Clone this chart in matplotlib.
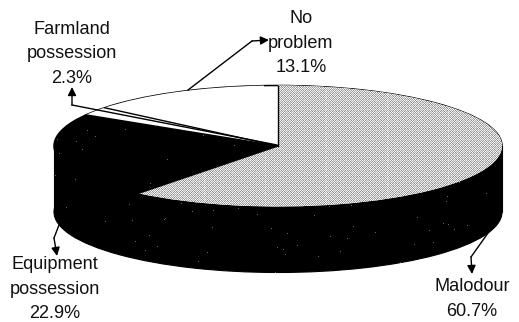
import numpy as np
import matplotlib
matplotlib.use("Agg")
import matplotlib.pyplot as plt
from matplotlib.transforms import Affine2D

categories = ["Malodour", "Equipment\npossession", "Farmland\npossession", "No\nproblem"]
shares = [60.7, 22.9, 2.3, 13.1]

W, H = 519, 322
CX, CY, RX, RY, DEPTH = 278, 146, 224, 60.5, 66

plt.rcParams["font.family"] = ["Liberation Sans", "DejaVu Sans"]
fig = plt.figure(figsize=(W / 100, H / 100), dpi=100, facecolor="white")
ax = fig.add_axes([0, 0, 1, 1])

# Unit-circle pie stretched into an ellipse by the axis limits
xlim = (-CX / RX, (W - CX) / RX)
ylim = ((CY - H) / RY, CY / RY)
depth = DEPTH / RY
fractions = np.array(shares) / 100
cumulative = np.cumsum(fractions)

# Lower rim and side wall of the disc
ax.pie([1], radius=1, center=(0, -depth), colors=["black"],
       wedgeprops=dict(edgecolor="black", linewidth=0.8))
ax.fill_between([-1, 1], [-depth, -depth], [0, 0], color="black", lw=0.8, zorder=1.5)

# Top face: a white disc with the rounded shares laid over it
ax.pie([1], radius=1, colors=["white"],
       wedgeprops=dict(edgecolor="black", linewidth=1.1, zorder=2))
wedges, _ = ax.pie(fractions, radius=1, normalize=False, startangle=90, counterclock=False,
                   colors=["white", "black", "white", "white"],
                   wedgeprops=dict(linewidth=0, zorder=3))
ax.set_aspect("auto")
ax.set_xlim(*xlim)
ax.set_ylim(*ylim)
ax.axis("off")

# Halftone screen on the largest slice
yy, xx = np.mgrid[0:H, 0:W]
cell = ((xx // 3 + yy // 3) % 2).astype(float)
checker = np.where((xx + yy) % 2 == 0, 1.0, -1.0)
screen = 0.80 + checker * (0.10 + 0.14 * cell)
screen[:, (xx[0] % 61) == 21] += 0.08
img = ax.imshow(np.clip(screen, 0, 1), cmap="gray", vmin=0, vmax=1, extent=(*xlim, *ylim),
                aspect="auto", interpolation="nearest", zorder=3.5)
img.set_clip_path(wedges[0])

# Slice boundaries on the top face
for frac in [0, cumulative[0], cumulative[1], cumulative[2]]:
    theta = 2 * np.pi * frac
    ax.plot([0, np.sin(theta)], [0, np.cos(theta)], color="black", lw=1.0, zorder=4)

# Sparse print specks in the black areas
u = (xx - CX) / RX
v = (yy - CY) / RY
on_top = u**2 + v**2 <= 1
on_wall = ((u**2 + (v - depth)**2 <= 1) | ((np.abs(u) <= 1) & (v >= 0) & (v <= depth))) & ~on_top
clock = (np.arctan2(u, -v) % (2 * np.pi)) / (2 * np.pi)
in_black = on_wall | (on_top & (clock > cumulative[0] + 0.004) & (clock < cumulative[1] - 0.004))
specks = np.zeros((H, W, 4))
specks[..., :3] = 0.4
specks[..., 3] = in_black & (((xx * 37 + yy * 91 + xx * yy) % 613) == 0)
ax.imshow(specks, extent=(*xlim, *ylim), aspect="auto", interpolation="nearest", zorder=3.6)
ax.set_xlim(*xlim)
ax.set_ylim(*ylim)

# Everything below is placed in image pixels
px = Affine2D().scale(1, -1).translate(0, H)

leaders = {
    "Malodour": [(488, 233), (471, 257), (472, 274)],
    "Equipment": [(59, 225), (54, 238), (57, 256)],
    "Farmland": [(277, 145), (72, 105), (72, 87)],
    "No": [(188, 90), (252, 41), (269, 40)],
}
for path in leaders.values():
    xs, ys = zip(*path[:-1])
    ax.plot(xs, ys, color="black", lw=1.0, transform=px, zorder=5, clip_on=False)
    ax.annotate("", xy=path[-1], xytext=path[-2], xycoords=px, textcoords=px, zorder=5,
                arrowprops=dict(arrowstyle="-|>,head_length=0.5,head_width=0.25",
                                color="black", lw=1.0, shrinkA=0, shrinkB=0))

label_pos = [(472, 299), (55, 289), (72, 54), (301, 43)]
for name, share, (x, y) in zip(categories, shares, label_pos):
    ax.text(x, y, f"{name}\n{share}%", transform=px, ha="center", va="center",
            fontsize=13.1, linespacing=1.6, color="#111111", zorder=6)

fig.savefig("out.png", dpi=100, facecolor="white")
